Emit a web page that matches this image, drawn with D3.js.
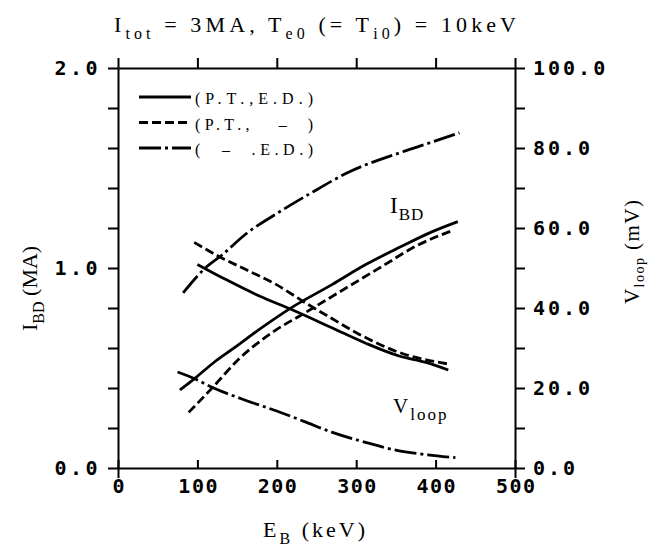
<!DOCTYPE html>
<html>
<head>
<meta charset="utf-8">
<script src="https://cdn.jsdelivr.net/npm/d3@7"></script>
<style>
  body { margin: 0; background: #fff; }
  .tick text { font-family: "DejaVu Sans Mono", monospace; font-weight: bold; font-size: 20px; }
  .serif { font-family: "Liberation Serif", "DejaVu Serif", serif; fill: #000; }
</style>
</head>
<body>
<div id="main"></div>
<script>
// x ticks (E_B, keV) and y ticks
const xTicks = [0, 100, 200, 300, 400, 500];
const leftTicks = [0, 0.2, 0.4, 0.6, 0.8, 1.0, 1.2, 1.4, 1.6, 1.8, 2.0];
const leftLabels = [0, 1, 2];
const rightTicks = [0, 10, 20, 30, 40, 50, 60, 70, 80, 90, 100];
const rightLabels = [0, 20, 40, 60, 80, 100];

// I_BD (MA), left axis
const solidIE = [78, 98, 123, 144, 178, 219, 270, 312, 354, 396, 428];
const solidI = [0.39, 0.452, 0.535, 0.594, 0.693, 0.803, 0.918, 1.017, 1.102, 1.182, 1.232];
const dashedIE = [89, 119, 152, 194, 236, 291, 333, 375, 423];
const dashedI = [0.278, 0.402, 0.544, 0.677, 0.777, 0.909, 1.009, 1.109, 1.19];
const dashdotIE = [82, 110, 131, 161, 199, 241, 291, 354, 392, 430];
const dashdotI = [0.876, 1.0, 1.065, 1.17, 1.27, 1.37, 1.48, 1.575, 1.625, 1.676];

// V_loop (mV), right axis
const solidVE = [100, 136, 178, 220, 270, 312, 354, 388, 416];
const solidV = [50.9, 47.1, 43.0, 39.5, 35.0, 31.2, 28.0, 26.4, 24.5];
const dashedVE = [96, 127, 161, 199, 236, 270, 304, 354, 419];
const dashedV = [56.4, 52.9, 49.6, 45.9, 41.3, 37.3, 33.4, 28.9, 25.9];
const dashdotVE = [75, 98, 119, 157, 199, 235, 270, 312, 354, 390, 425];
const dashdotV = [24.0, 22.2, 20.1, 17.2, 14.3, 11.6, 8.9, 6.4, 4.3, 3.3, 2.6];

const legendNames = ["(P.T.,E.D.)", "(P.T.,   \u2013  )", "(  \u2013  .E.D.)"];

const width = 650;
const height = 546;
const mLeft = 118, mRight = 515, mTop = 68, mBottom = 468;

const x = d3.scaleLinear().domain([0, 500]).range([mLeft, mRight]);
const yL = d3.scaleLinear().domain([0, 2]).range([mBottom, mTop]);
const yR = d3.scaleLinear().domain([0, 100]).range([mBottom, mTop]);

const svg = d3.select("#main").append("svg").attr("width", width).attr("height", height);

const dashes = ["none", "9,4", "22,4,3,4"];

const styleAxis = (g) => {
  g.selectAll("path, line").attr("stroke", "#000").attr("stroke-width", 2);
  g.selectAll("text").attr("fill", "#000");
};

// top axis, ticks outward
svg.append("g")
  .attr("transform", `translate(0, ${mTop})`)
  .call(d3.axisTop(x).tickValues(xTicks).tickSize(10).tickSizeOuter(0).tickFormat(""))
  .call(styleAxis);

// bottom axis, ticks inward, labels below
svg.append("g")
  .attr("transform", `translate(0, ${mBottom})`)
  .call(d3.axisBottom(x).tickValues(xTicks).tickSize(-8).tickSizeOuter(0).tickPadding(11).tickFormat(d3.format("d")))
  .call(styleAxis)
  .call((g) => g.selectAll("text").attr("letter-spacing", 1.5).attr("dx", 0.75));
svg.append("g")
  .attr("transform", `translate(0, ${mBottom})`)
  .call(d3.axisBottom(x).tickValues([0, 500]).tickSize(10).tickSizeOuter(0).tickFormat(""))
  .call(styleAxis)
  .call((g) => g.select(".domain").remove());

// left axis
svg.append("g")
  .attr("transform", `translate(${mLeft}, 0)`)
  .call(d3.axisLeft(yL).tickValues(leftTicks).tickSize(10).tickSizeOuter(0).tickPadding(7)
    .tickFormat((d) => (leftLabels.some((v) => Math.abs(v - d) < 1e-9) ? d3.format(".1f")(d) : "")))
  .call(styleAxis)
  .call((g) => g.selectAll("text").attr("letter-spacing", 3.5));

// right axis
svg.append("g")
  .attr("transform", `translate(${mRight}, 0)`)
  .call(d3.axisRight(yR).tickValues(rightTicks).tickSize(10).tickSizeOuter(0).tickPadding(8)
    .tickFormat((d) => (rightLabels.includes(d) ? d3.format(".1f")(d) : "")))
  .call(styleAxis)
  .call((g) => g.selectAll("text").attr("letter-spacing", 3));

// curves
const lineI = d3.line().x((d) => x(d[0])).y((d) => yL(d[1])).curve(d3.curveMonotoneX);
const lineV = d3.line().x((d) => x(d[0])).y((d) => yR(d[1])).curve(d3.curveMonotoneX);

const series = [
  { e: solidIE, v: solidI, line: lineI, dash: dashes[0] },
  { e: dashedIE, v: dashedI, line: lineI, dash: dashes[1] },
  { e: dashdotIE, v: dashdotI, line: lineI, dash: dashes[2] },
  { e: solidVE, v: solidV, line: lineV, dash: dashes[0] },
  { e: dashedVE, v: dashedV, line: lineV, dash: dashes[1] },
  { e: dashdotVE, v: dashdotV, line: lineV, dash: dashes[2] },
];

svg.selectAll(".curve")
  .data(series)
  .enter()
  .append("path")
  .attr("class", "curve")
  .attr("d", (s) => s.line(s.e.map((e, i) => [e, s.v[i]])))
  .attr("fill", "none")
  .attr("stroke", "#000")
  .attr("stroke-width", 2.8)
  .attr("stroke-dasharray", (s) => s.dash);

// legend
const legend = svg.append("g");
legendNames.forEach((name, i) => {
  const ly = 97 + i * 25.5;
  legend.append("line")
    .attr("x1", 139).attr("x2", 191).attr("y1", ly).attr("y2", ly)
    .attr("stroke", "#000").attr("stroke-width", 2.8).attr("stroke-dasharray", dashes[i]);
  legend.append("text")
    .attr("class", "serif")
    .attr("x", 195).attr("y", ly + 7)
    .attr("font-size", 16)
    .attr("xml:space", "preserve")
    .attr("textLength", 118)
    .attr("lengthAdjust", "spacing")
    .text(name);
});

// text with subscripts
const subText = (parts, size, subSize, shift = 7) => (sel) => {
  parts.forEach((p) => {
    const t = sel.append("tspan").text(p.t);
    if (p.sub) t.attr("font-size", subSize).attr("dy", shift);
    else if (p.after) t.attr("dy", -shift);
  });
  sel.attr("font-size", size);
};

svg.append("text")
  .attr("class", "serif")
  .attr("x", 114).attr("y", 32)
  .attr("xml:space", "preserve")
  .attr("textLength", 402)
  .attr("lengthAdjust", "spacing")
  .call(subText([
    { t: "I" }, { t: "tot", sub: true }, { t: " = 3MA, T", after: true },
    { t: "e0", sub: true }, { t: " (= T", after: true }, { t: "i0", sub: true },
    { t: ") = 10keV", after: true },
  ], 22, 16));

svg.append("text")
  .attr("class", "serif")
  .attr("x", 263).attr("y", 537)
  .attr("xml:space", "preserve")
  .attr("textLength", 102)
  .attr("lengthAdjust", "spacing")
  .call(subText([{ t: "E" }, { t: "B", sub: true }, { t: " (keV)", after: true }], 22, 16));

svg.append("text")
  .attr("class", "serif")
  .attr("transform", "translate(37, 331) rotate(-90)")
  .attr("xml:space", "preserve")
  .call(subText([{ t: "I" }, { t: "BD", sub: true }, { t: " (MA)", after: true }], 22, 16));

svg.append("text")
  .attr("class", "serif")
  .attr("transform", "translate(639, 304) rotate(-90)")
  .attr("xml:space", "preserve")
  .attr("textLength", 104)
  .attr("lengthAdjust", "spacing")
  .call(subText([{ t: "V" }, { t: "loop", sub: true }, { t: " (mV)", after: true }], 21, 14, 5));

svg.append("text")
  .attr("class", "serif")
  .attr("x", 390).attr("y", 213)
  .attr("letter-spacing", 1)
  .call(subText([{ t: "I" }, { t: "BD", sub: true }], 23, 17));

svg.append("text")
  .attr("class", "serif")
  .attr("x", 393).attr("y", 413)
  .attr("letter-spacing", 2)
  .call(subText([{ t: "V" }, { t: "loop", sub: true }], 21, 17));
</script>
</body>
</html>
